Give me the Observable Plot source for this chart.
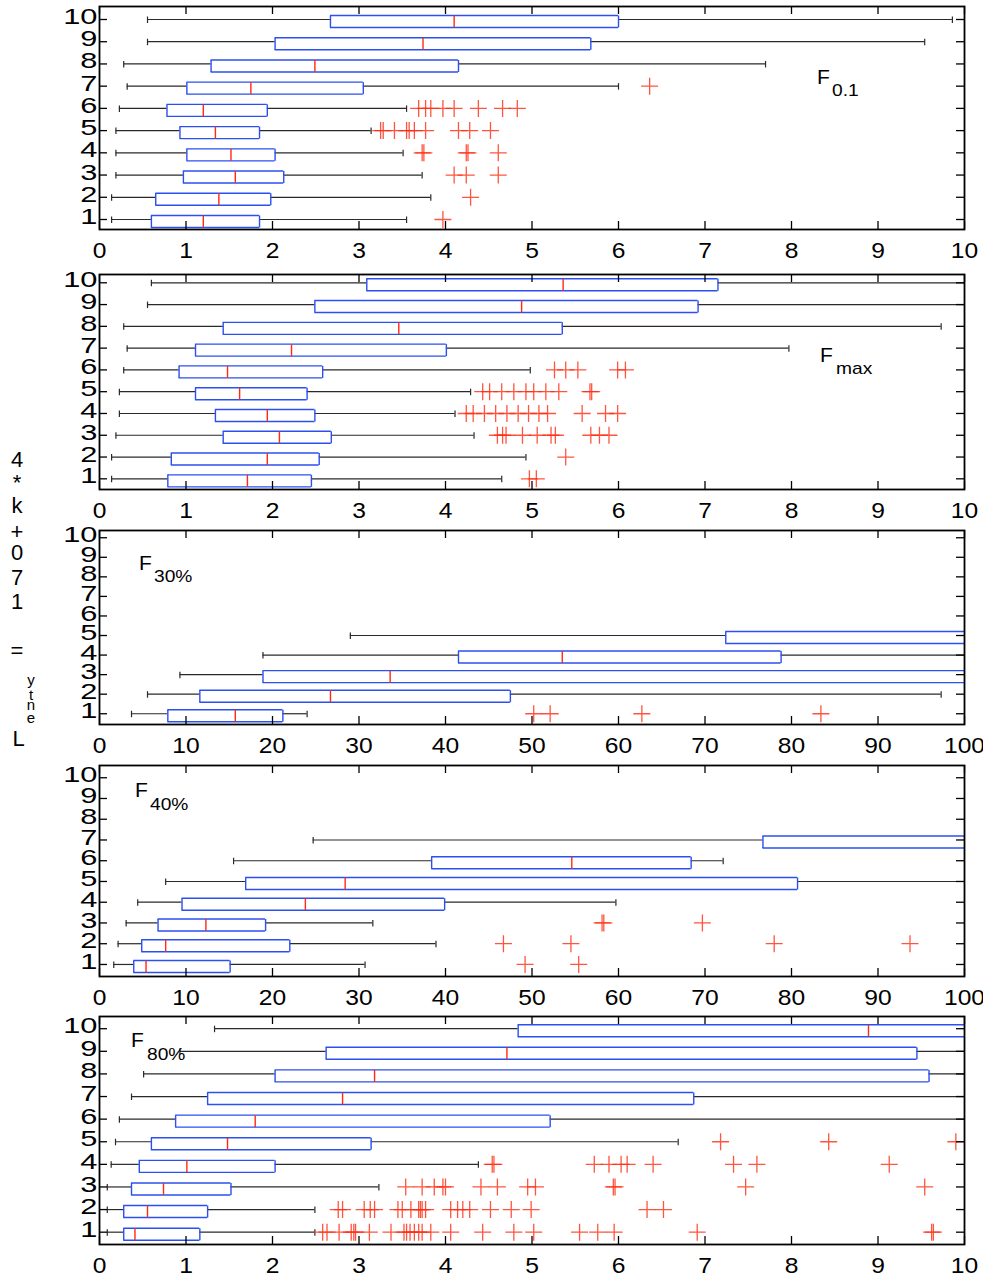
<!DOCTYPE html>
<html><head><meta charset="utf-8">
<script src="https://cdn.jsdelivr.net/npm/d3@7"></script>
<script src="https://cdn.jsdelivr.net/npm/@observablehq/plot@0.6"></script>
<style>
body{margin:0;background:#fff;}
#chart{position:relative;width:983px;height:1277px;font-family:"Liberation Sans",Arial,sans-serif;background:#fff;}
.panel{position:absolute;left:0;}
#overlay{position:absolute;left:0;top:0;pointer-events:none;}
</style></head><body><div id="chart"></div>
<script>
// ---------- data ----------
const rows10 = [1,2,3,4,5,6,7,8,9,10];
const ticksUnit = [0,1,2,3,4,5,6,7,8,9,10];
const ticksPct = [0,10,20,30,40,50,60,70,80,90,100];

// F0.1
const f01Rows = [1,2,3,4,5,6,7,8,9,10];
const f01Lo  = [0.14,0.14,0.19,0.19,0.19,0.23,0.32,0.28,0.555,0.555];
const f01Q1  = [0.60,0.65,0.97,1.01,0.93,0.78,1.01,1.29,2.03,2.67];
const f01Med = [1.20,1.38,1.57,1.52,1.34,1.20,1.75,2.49,3.74,4.10];
const f01Q3  = [1.85,1.98,2.13,2.03,1.85,1.94,3.05,4.15,5.68,6.00];
const f01Hi  = [3.55,3.83,3.73,3.51,3.14,3.55,6.00,7.70,9.54,9.86];
const f01Out = [[3.97],[4.29],[4.10,4.24,4.61],[3.73,3.75,4.24,4.26,4.61],
  [3.25,3.28,3.41,3.55,3.58,3.64,3.77,4.15,4.28,4.52],
  [3.69,3.77,3.83,3.97,4.10,4.38,4.66,4.83],[6.36],[],[],[]];

// Fmax
const fmaxRows = [1,2,3,4,5,6,7,8,9,10];
const fmaxLo  = [0.14,0.14,0.19,0.23,0.23,0.28,0.32,0.28,0.555,0.60];
const fmaxQ1  = [0.79,0.83,1.43,1.34,1.11,0.92,1.11,1.43,2.49,3.09];
const fmaxMed = [1.71,1.94,2.08,1.94,1.62,1.48,2.22,3.46,4.88,5.36];
const fmaxQ3  = [2.45,2.54,2.68,2.49,2.40,2.58,4.01,5.35,6.92,7.15];
const fmaxHi  = [4.65,4.93,4.33,4.11,4.29,4.98,7.97,9.73,10.6,10.8];
const fmaxOut = [[4.97,5.05],[5.39],[4.60,4.66,4.70,4.89,5.06,5.22,5.27,5.68,5.78,5.89],
  [4.24,4.32,4.45,4.58,4.71,4.84,4.96,5.08,5.18,5.58,5.85,5.99],
  [4.43,4.51,4.65,4.79,4.93,5.02,5.16,5.31,5.67,5.69],
  [5.26,5.39,5.53,5.99,6.08],[],[],[],[]];

// F30%
const f30Rows = [1,2,3,4,5];
const f30Lo  = [3.7,5.55,9.3,18.9,29.0];
const f30Q1  = [7.9,11.6,18.9,41.5,72.4];
const f30Med = [15.7,26.7,33.6,53.5,104];
const f30Q3  = [21.2,47.5,112,78.8,130];
const f30Hi  = [24.0,97.3,160,120,190];
const f30Out = [[50.2,52.1,62.7,83.4],[],[],[],[]];

// F40%
const f40Rows = [1,2,3,4,5,6,7];
const f40Lo  = [1.65,2.15,3.08,4.42,7.65,15.5,24.7];
const f40Q1  = [3.96,4.88,6.77,9.54,16.9,38.4,76.7];
const f40Med = [5.38,7.65,12.3,23.8,28.4,54.6,108];
const f40Q3  = [15.1,22.0,19.2,39.9,80.7,68.4,130];
const f40Hi  = [30.7,38.9,31.6,59.7,115,72.1,170];
const f40Out = [[49.2,55.4],[46.7,54.5,78.0,93.7],[58.1,58.3,69.7],[],[],[],[]];

// F80%
const f80Rows = [1,2,3,4,5,6,7,8,9,10];
const f80Lo  = [0.09,0.09,0.09,0.135,0.185,0.23,0.37,0.51,0.93,1.33];
const f80Q1  = [0.28,0.28,0.37,0.46,0.60,0.88,1.25,2.03,2.62,4.84];
const f80Med = [0.41,0.555,0.74,1.01,1.48,1.80,2.81,3.18,4.71,8.89];
const f80Q3  = [1.16,1.25,1.52,2.03,3.14,5.21,6.87,9.59,9.45,10.9];
const f80Hi  = [2.49,2.49,3.23,4.38,6.69,11,11.5,12,12,13];
const f80Out = [
  [2.58,2.63,2.77,2.91,2.94,2.96,3.12,3.37,3.52,3.55,3.59,3.64,3.69,3.73,3.83,4.06,4.43,4.79,5.02,5.55,5.76,5.95,6.91,9.62,9.64],
  [2.76,2.81,3.06,3.13,3.18,3.45,3.50,3.60,3.69,3.71,3.73,3.77,4.06,4.14,4.20,4.28,4.52,4.76,4.99,6.33,6.52],
  [3.54,3.73,3.87,3.97,4.00,4.41,4.60,4.95,5.04,5.94,5.96,7.47,9.54],
  [4.54,4.56,5.72,5.89,6.03,6.10,6.40,7.33,7.60,9.13],
  [7.18,8.43,9.90],[],[],[],[],[]];

const panelNames = ["F0.1","Fmax","F30%","F40%","F80%"];

// ---------- layout ----------
const W = 983, ML = 99, MR = 19, MT = 3, MB = 34;
const panels = [
  {rows:f01Rows, lo:f01Lo, q1:f01Q1, med:f01Med, q3:f01Q3, hi:f01Hi, out:f01Out, xDomain:[0,10], xTicks:ticksUnit, top:6, frameH:223, yDomain:[0.55,10.585]},
  {rows:fmaxRows, lo:fmaxLo, q1:fmaxQ1, med:fmaxMed, q3:fmaxQ3, hi:fmaxHi, out:fmaxOut, xDomain:[0,10], xTicks:ticksUnit, top:274, frameH:215, yDomain:[0.51,10.38]},
  {rows:f30Rows, lo:f30Lo, q1:f30Q1, med:f30Med, q3:f30Q3, hi:f30Hi, out:f30Out, xDomain:[0,100], xTicks:ticksPct, top:530, frameH:194, yDomain:[0.45,10.37]},
  {rows:f40Rows, lo:f40Lo, q1:f40Q1, med:f40Med, q3:f40Q3, hi:f40Hi, out:f40Out, xDomain:[0,100], xTicks:ticksPct, top:765, frameH:211, yDomain:[0.42,10.59]},
  {rows:f80Rows, lo:f80Lo, q1:f80Q1, med:f80Med, q3:f80Q3, hi:f80Hi, out:f80Out, xDomain:[0,10], xTicks:ticksUnit, top:1016, frameH:228, yDomain:[0.455,10.54]}
];

const BLUE = "#2b4ff0", RED = "#ff2a10", DARK = "#2a2a2a";
const plusSym = {draw(c){ c.moveTo(-8.5,0); c.lineTo(8.5,0); c.moveTo(0,-8.5); c.lineTo(0,8.5); }};
const edgeSym = {draw(c){ c.moveTo(0,-4); c.lineTo(0,8); }};
const capSym  = {draw(c){ c.moveTo(0,-3); c.lineTo(0,3.5); }};

const chart = document.getElementById("chart");

panels.forEach(p => {
  const stats = p.rows.map((r,i) => ({row:r, lo:p.lo[i], q1:p.q1[i], med:p.med[i], q3:p.q3[i], hi:p.hi[i]}));
  const outs = p.rows.flatMap((r,i) => p.out[i].map(v => ({row:r, v})));
  const fw = W - ML - MR, fh = p.frameH;
  const line = {stroke: DARK, strokeWidth: 1.2, clip: true};
  const blue = {stroke: BLUE, strokeWidth: 1.4, clip: true};
  const svg = Plot.plot({
    width: W, height: fh + MT + MB,
    marginLeft: ML, marginRight: MR, marginTop: MT, marginBottom: MB,
    style: {fontFamily: "'Liberation Sans', Arial, sans-serif", fontSize: "22px", background: "white", color: "black", overflow: "visible"},
    x: {domain: p.xDomain, axis: null},
    y: {domain: p.yDomain, axis: null},
    marks: [
      Plot.ruleY(stats, {y:"row", x1:"lo", x2:"q1", ...line}),
      Plot.ruleY(stats, {y:"row", x1:"q3", x2:"hi", ...line}),
      Plot.dot(stats, {x:"lo", y:"row", symbol: capSym, fill:"none", ...line}),
      Plot.dot(stats, {x:"hi", y:"row", symbol: capSym, fill:"none", ...line}),
      Plot.ruleY(stats, {y:"row", x1:"q1", x2:"q3", dy:-4, ...blue}),
      Plot.ruleY(stats, {y:"row", x1:"q1", x2:"q3", dy:8, ...blue}),
      Plot.dot(stats, {x:"q1", y:"row", symbol: edgeSym, fill:"none", ...blue}),
      Plot.dot(stats, {x:"q3", y:"row", symbol: edgeSym, fill:"none", ...blue}),
      Plot.dot(stats, {x:"med", y:"row", symbol: edgeSym, fill:"none", stroke: RED, strokeWidth: 1.4, clip: true}),
      Plot.dot(outs, {x:"v", y:"row", symbol: plusSym, fill:"none", stroke: RED, strokeWidth: 1.3, strokeOpacity: 0.8, clip: true}),
      Plot.tickX(p.xTicks, {x: d => d, insetBottom: fh - 8, stroke: "black", strokeWidth: 1.3}),
      Plot.tickX(p.xTicks, {x: d => d, insetTop: fh - 8, stroke: "black", strokeWidth: 1.3}),
      Plot.tickY(rows10, {y: d => d, insetRight: fw - 8, stroke: "black", strokeWidth: 1.3}),
      Plot.tickY(rows10, {y: d => d, insetLeft: fw - 8, stroke: "black", strokeWidth: 1.3}),
      Plot.frame({stroke: "black", strokeWidth: 1.8}),
      Plot.axisX(p.xTicks, {anchor: "bottom", tickSize: 0, tickPadding: 13, fontSize: 22, label: null}),
      Plot.axisY(rows10, {anchor: "left", tickSize: 0, tickPadding: 2, dy: -2.5, fontSize: 22, label: null})
    ]
  });
  const stretch = [['[aria-label="x-axis tick label"] text', 1.12], ['[aria-label="y-axis tick label"] text', 1.4]];
  for (const [sel, k] of stretch) {
    for (const t of svg.querySelectorAll(sel)) {
      const tr = t.getAttribute("transform") || "";
      const x = +t.getAttribute("x") || 0, y = +t.getAttribute("y") || 0;
      t.setAttribute("transform", `${tr} translate(${x},${y}) scale(${k},1) translate(${-x},${-y})`);
    }
  }
  const div = document.createElement("div");
  div.className = "panel";
  div.style.top = (p.top - MT) + "px";
  div.appendChild(svg);
  chart.appendChild(div);
});

// ---------- annotations ----------
const ov = d3.create("svg").attr("id","overlay").attr("width",W).attr("height",1277)
  .attr("font-family","'Liberation Sans', Arial, sans-serif").attr("fill","black");
const labelPos = [
  {fx:817, fy:83.5, sx:832, sy:95.5},
  {fx:820, fy:361.5, sx:836, sy:373.5},
  {fx:139, fy:570, sx:154, sy:581.5},
  {fx:135, fy:797, sx:150, sy:809.5},
  {fx:131, fy:1047, sx:147, sy:1060}
];
panelNames.forEach((name, i) => {
  const lp = labelPos[i];
  ov.append("text").attr("transform",`translate(${lp.fx},${lp.fy})`).attr("font-size",21).text(name[0]);
  ov.append("text").attr("transform",`translate(${lp.sx},${lp.sy}) scale(1.2,1)`).attr("font-size",16).text(name.slice(1));
});
// y label as drawn in the figure: "L_ength = 170 + k*4" stacked bottom-to-top
const yChars = ["4","*","k","+","0","7","1","=","y","t","n","e","L"];
const yCharPos = [[17,466.7,22],[17,490,22],[17,513.3,22],[17,539,22],[17,560,22],[17,585,22],[17,609.3,22],[17,658,22],[31,685,15],[31,700,15],[31,710,15],[31,722.7,15],[18.5,746,22]];
yChars.forEach((ch, i) => {
  const [x, y, fs] = yCharPos[i];
  ov.append("text").attr("x", x).attr("y", y).attr("text-anchor","middle").attr("font-size", fs).text(ch);
});
chart.appendChild(ov.node());
</script></body></html>
